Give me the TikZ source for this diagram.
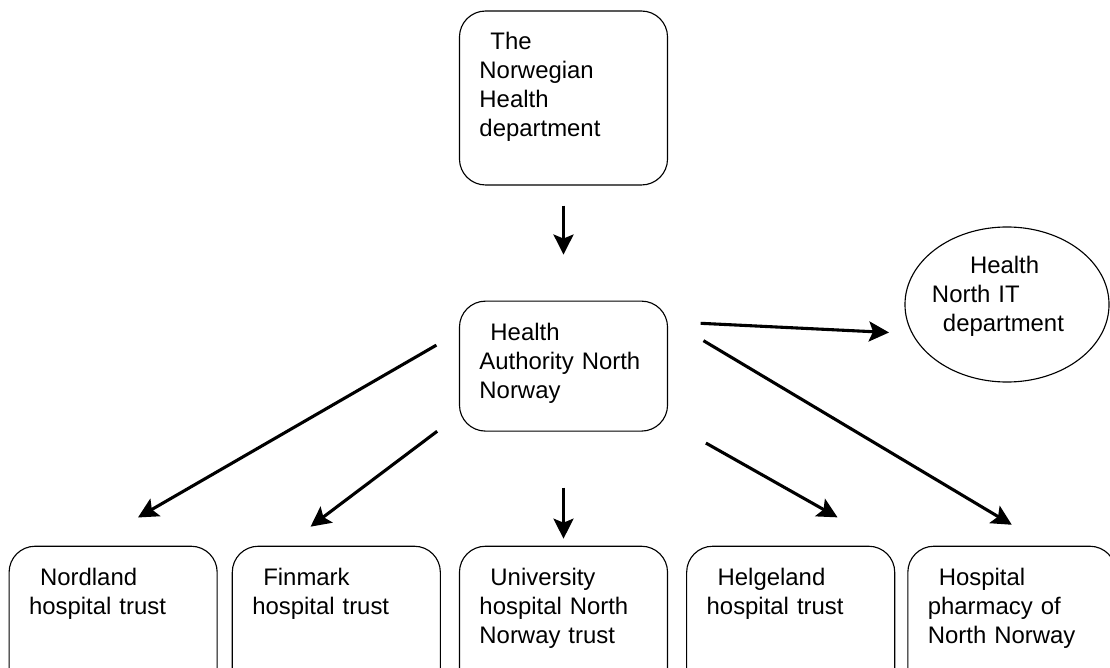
\documentclass[tikz,border=0pt]{standalone}
\usepackage{fontspec}
\setmainfont{Liberation Sans}
\usepackage{tikz}
\usetikzlibrary{
  positioning,
  arrows.meta,
  shapes.geometric
}
\newcommand{\orgfont}{\fontsize{17pt}{20.6pt}\selectfont}
\newcommand{\firstgap}{\hspace*{0.275cm}}

\begin{document}
\begin{tikzpicture}[
  x=0.025cm, y=-0.025cm,
  >={Stealth[length=0.5cm, width=0.5cm, inset=0.1cm]},
  orgbox/.style={
    rectangle, draw, rounded corners=0.65cm, line width=0.8pt,
    text width=4.2cm, align=left, inner xsep=0.5cm, inner ysep=0.55cm,
    text height=0.423cm, text depth=#1, font=\orgfont
  },
  itbox/.style={
    ellipse, draw, line width=0.8pt, inner sep=0pt,
    minimum width=5.1cm, minimum height=3.875cm,
    text width=3.3cm, align=left, text height=0.423cm, text depth=1.95cm,
    font=\orgfont
  },
  link/.style={->, line width=2.2pt}
]
\useasboundingbox (0,0) rectangle (1110,668);
\clip (0,0) rectangle (1110,668);

% ministry and regional authority
\node[orgbox=2.825cm] (norhd) at (563.5,98)
  {\firstgap The\\Norwegian\\Health\\department};
\node[orgbox=1.725cm, below=2.875cm of norhd] (hana)
  {\firstgap Health\\Authority North\\Norway};
\node[itbox] (itdept) at (1007,304.5)
  {\hspace*{0.725cm}Health\\\hspace*{-0.225cm}North IT\\\hspace*{0.05cm}department};

% trusts (boxes run off the bottom edge)
\node[orgbox=2.375cm, below=2.85cm of hana] (unn)
  {\firstgap University\\hospital North\\Norway trust};
\node[orgbox=2.375cm, left=0.45cm of unn] (finmark)
  {\firstgap Finmark\\hospital trust};
\node[orgbox=2.375cm, left=0.35cm of finmark] (nordland)
  {\firstgap Nordland\\hospital trust};
\node[orgbox=2.375cm, right=0.45cm of unn] (helgeland)
  {\firstgap Helgeland\\hospital trust};
\node[orgbox=2.375cm, right=0.3cm of helgeland] (pharmacy)
  {\firstgap Hospital\\pharmacy of\\North Norway};

\draw[link, shorten <=0.5cm, shorten >=1.15cm] (norhd.south) -- (hana.north);
\draw[link, shorten <=0.815cm, shorten >=0.57cm] (hana.23.5) -- (itdept.197.6);
\draw[link, shorten <=0.65cm, shorten >=1.41cm] (hana.162.5) -- (nordland.107.5);
\draw[link, shorten <=0.68cm, shorten >=0.79cm] (hana.205) -- (finmark.123.2);
\draw[link, shorten <=1.4cm, shorten >=0.175cm] (hana.south) -- (unn.north);
\draw[link, shorten <=1.085cm, shorten >=1.44cm] (hana.332.9) -- (helgeland.39.6);
\draw[link, shorten <=1.03cm, shorten >=1.02cm] (hana.24) -- (pharmacy.66.1);

\end{tikzpicture}
\end{document}
